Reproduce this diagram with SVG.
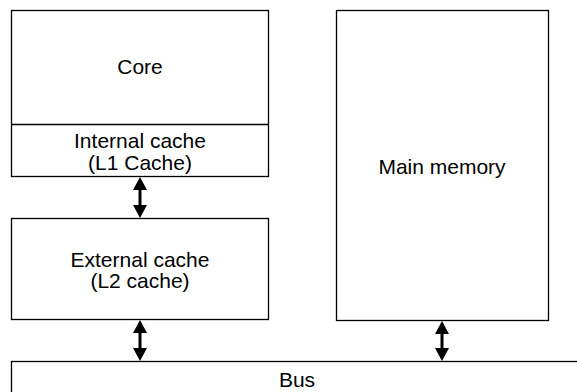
<svg xmlns="http://www.w3.org/2000/svg" width="577" height="392" viewBox="0 0 577 392">
<style>
.box{fill:#fff;stroke:#000;stroke-width:1.3}
.t{font-family:"Liberation Sans",Arial,sans-serif;font-size:21px;fill:#000;text-anchor:middle}
.ar{fill:#000}
.sh{stroke:#000;stroke-width:3}
</style>
<rect width="577" height="392" fill="#fff"/>
<g id="core">
<rect class="box" x="11.5" y="10.5" width="257" height="166"/>
<line x1="11.5" y1="124.5" x2="268.5" y2="124.5" stroke="#000" stroke-width="1.3"/>
<text class="t" x="140" y="74">Core</text>
<text class="t" x="140" y="148">Internal cache</text>
<text class="t" x="140" y="170">(L1 Cache)</text>
</g>
<g id="l2">
<rect class="box" x="11.5" y="218.5" width="257" height="101"/>
<text class="t" x="140" y="267">External cache</text>
<text class="t" x="140" y="288">(L2 cache)</text>
</g>
<g id="mem">
<rect class="box" x="336.5" y="10.5" width="212" height="310"/>
<text class="t" x="442" y="174">Main memory</text>
</g>
<g id="bus">
<rect class="box" x="11.5" y="361.5" width="571" height="50"/>
<text class="t" x="297" y="387">Bus</text>
</g>
<g id="connectors">
<line class="sh" x1="140" y1="186" x2="140" y2="208"/>
<polygon class="ar" points="140,177 147,190 133,190"/>
<polygon class="ar" points="140,218 147,205 133,205"/>
<line class="sh" x1="140" y1="329" x2="140" y2="351"/>
<polygon class="ar" points="140,320 147,333 133,333"/>
<polygon class="ar" points="140,361 147,348 133,348"/>
<line class="sh" x1="442" y1="330" x2="442" y2="351"/>
<polygon class="ar" points="442,321 449,334 435,334"/>
<polygon class="ar" points="442,361 449,348 435,348"/>
</g>
</svg>
